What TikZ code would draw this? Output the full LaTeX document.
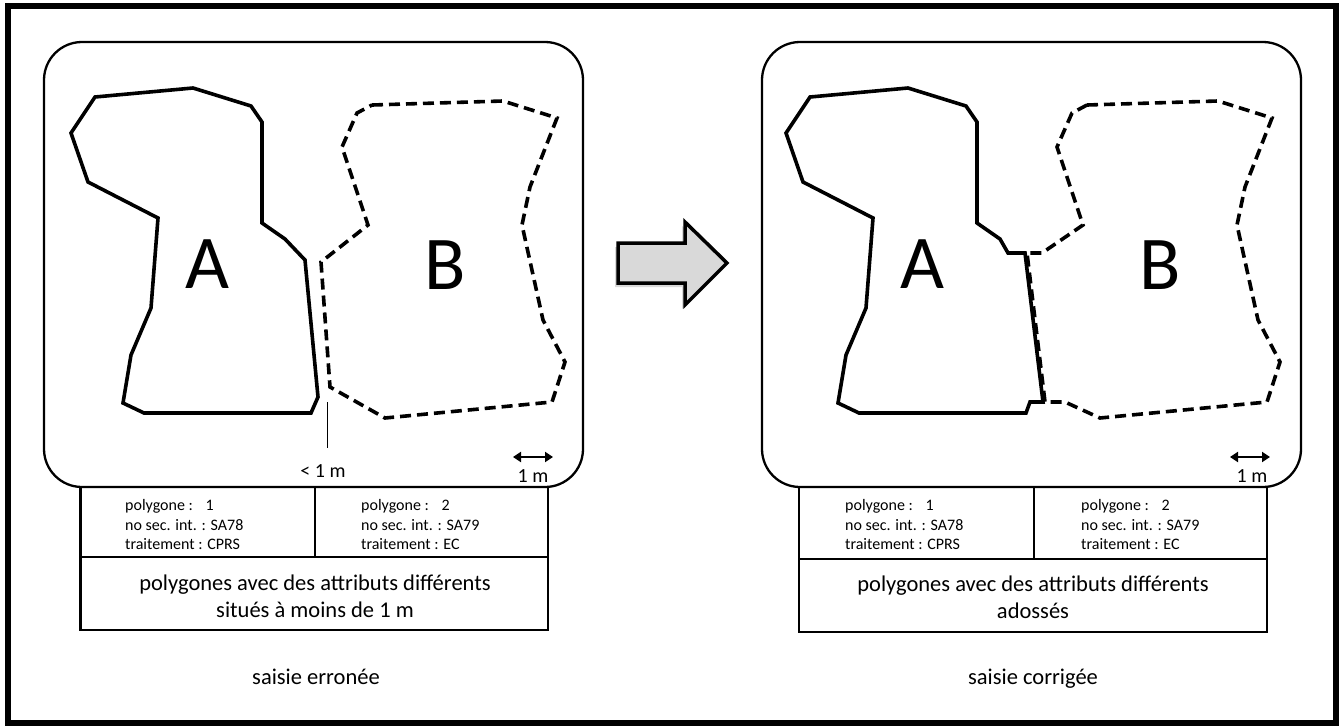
\documentclass[tikz,border=0pt]{standalone}
\usepackage{fontspec}
\setmainfont{Carlito}
\usetikzlibrary{arrows.meta,shadows}
\definecolor{arrowgray}{RGB}{217,217,217}
\begin{document}
\begin{tikzpicture}[x=1pt,y=-1pt,
  frame/.style={line width=5.5pt},
  panel/.style={line width=2.3pt, rounded corners=38pt},
  tbl/.style={line width=2.5pt},
  solidpoly/.style={line width=3.6pt, line join=miter},
  dashpoly/.style={line width=3.6pt, dash pattern=on 11pt off 6pt, line join=miter},
  letter/.style={font=\fontsize{76}{80}\selectfont, inner sep=0pt},
  smalltxt/.style={font=\fontsize{16}{19.5}\selectfont, inner sep=0pt, anchor=base west},
  bigtxt/.style={font=\fontsize{22.5}{27}\selectfont, inner sep=0pt, anchor=base},
  scaletxt/.style={font=\fontsize{20}{22}\selectfont, inner sep=0pt, anchor=base},
  scalearrow/.style={line width=2.8pt, {Triangle[length=8pt,width=10pt]}-{Triangle[length=8pt,width=10pt]}},
  bigarrow/.style={line width=3.5pt, fill=arrowgray, line join=miter,
     drop shadow={shadow xshift=-3pt, shadow yshift=-4pt, opacity=0.3}}
]
\useasboundingbox (0,0) rectangle (1344,726);
\draw[frame] (8,6) rectangle (1336,723);

% ---------------- left panel ----------------
\draw[panel] (44,42) rectangle (583,487);
\draw[solidpoly] (95,97) -- (193,88) -- (251,106) -- (262,122) -- (262,223) -- (285,239) -- (305,260) -- (318,397) -- (311,413) -- (144,413) -- (123,403) -- (131,355) -- (151,308) -- (158,218) -- (88,182) -- (71,133) -- cycle;
\draw[dashpoly] (372,105) -- (503,101) -- (557,118) -- (530,187) -- (522,225) -- (543,320) -- (565,362) -- (552,402) -- (385,418) -- (330,387) -- (321,262) -- (368,225) -- (342,147) -- (357,113) -- cycle;
\node[letter] (LA) at (207,264) {A};
\node[letter] (LB) at (445,265) {B};
\coordinate (lgapTop) at (327,402);
\coordinate (lgapBot) at (327,448);
\draw[line width=1pt] (lgapTop) -- (lgapBot);
\node[scaletxt] (lless) at (323,477) {< 1 m};
\coordinate (lsA) at (513,457);
\coordinate (lsB) at (553,457);
\draw[scalearrow] (lsA) -- (lsB);
\node[scaletxt] (lscale) at (533,482) {1 m};

\draw[tbl] (80.7,487) rectangle (548,630);
\draw[tbl] (80.7,557) -- (548,557);
\draw[tbl] (315,487) -- (315,557);
\node[smalltxt] (l1a) at (125,510) {polygone :\hspace{0.8em}1};
\node[smalltxt] (l1b) at (125,530) {no sec. int. : SA78};
\node[smalltxt] (l1c) at (125,549) {traitement : CPRS};
\node[smalltxt] (l2a) at (361,510) {polygone :\hspace{0.8em}2};
\node[smalltxt] (l2b) at (361,530) {no sec. int. : SA79};
\node[smalltxt] (l2c) at (361,549) {traitement : EC};
\node[bigtxt] (ldesc1) at (315,590) {polygones avec des attributs différents};
\node[bigtxt] (ldesc2) at (315,617) {situés à moins de 1 m};
\node[bigtxt] (lcap) at (316,684) {saisie erronée};

% ---------------- arrow ----------------
\draw[bigarrow] (618,243) -- (685,243) -- (685,222) -- (727,263) -- (685,305) -- (685,283) -- (618,283) -- cycle;

% ---------------- right panel ----------------
\draw[panel] (762,42) rectangle (1301,487);
\draw[solidpoly] (810,97) -- (908,88) -- (966,106) -- (977,122) -- (977,223) -- (1000,239) -- (1008,253) -- (1025,253) -- (1043,402) -- (1030,402) -- (1026,413) -- (859,413) -- (838,403) -- (846,355) -- (866,308) -- (873,218) -- (803,182) -- (786,133) -- cycle;
\draw[dashpoly] (1087,105) -- (1218,101) -- (1272,118) -- (1245,187) -- (1237,225) -- (1258,320) -- (1280,362) -- (1267,402) -- (1100,418) -- (1065,402) -- (1045,402) -- (1027,253) -- (1042,253) -- (1083,225) -- (1057,147) -- (1072,113) -- cycle;
\node[letter] (RA) at (922,264) {A};
\node[letter] (RB) at (1160,265) {B};
\coordinate (rsA) at (1230,457);
\coordinate (rsB) at (1270,457);
\draw[scalearrow] (rsA) -- (rsB);
\node[scaletxt] (rscale) at (1252,482) {1 m};

\draw[tbl] (799,487) rectangle (1267,632);
\draw[tbl] (799,559) -- (1267,559);
\draw[tbl] (1034,487) -- (1034,559);
\node[smalltxt] (r1a) at (845,510) {polygone :\hspace{0.8em}1};
\node[smalltxt] (r1b) at (845,530) {no sec. int. : SA78};
\node[smalltxt] (r1c) at (845,549) {traitement : CPRS};
\node[smalltxt] (r2a) at (1081,510) {polygone :\hspace{0.8em}2};
\node[smalltxt] (r2b) at (1081,530) {no sec. int. : SA79};
\node[smalltxt] (r2c) at (1081,549) {traitement : EC};
\node[bigtxt] (rdesc1) at (1033,591) {polygones avec des attributs différents};
\node[bigtxt] (rdesc2) at (1033,618) {adossés};
\node[bigtxt] (rcap) at (1033,684) {saisie corrigée};
\end{tikzpicture}
\end{document}
